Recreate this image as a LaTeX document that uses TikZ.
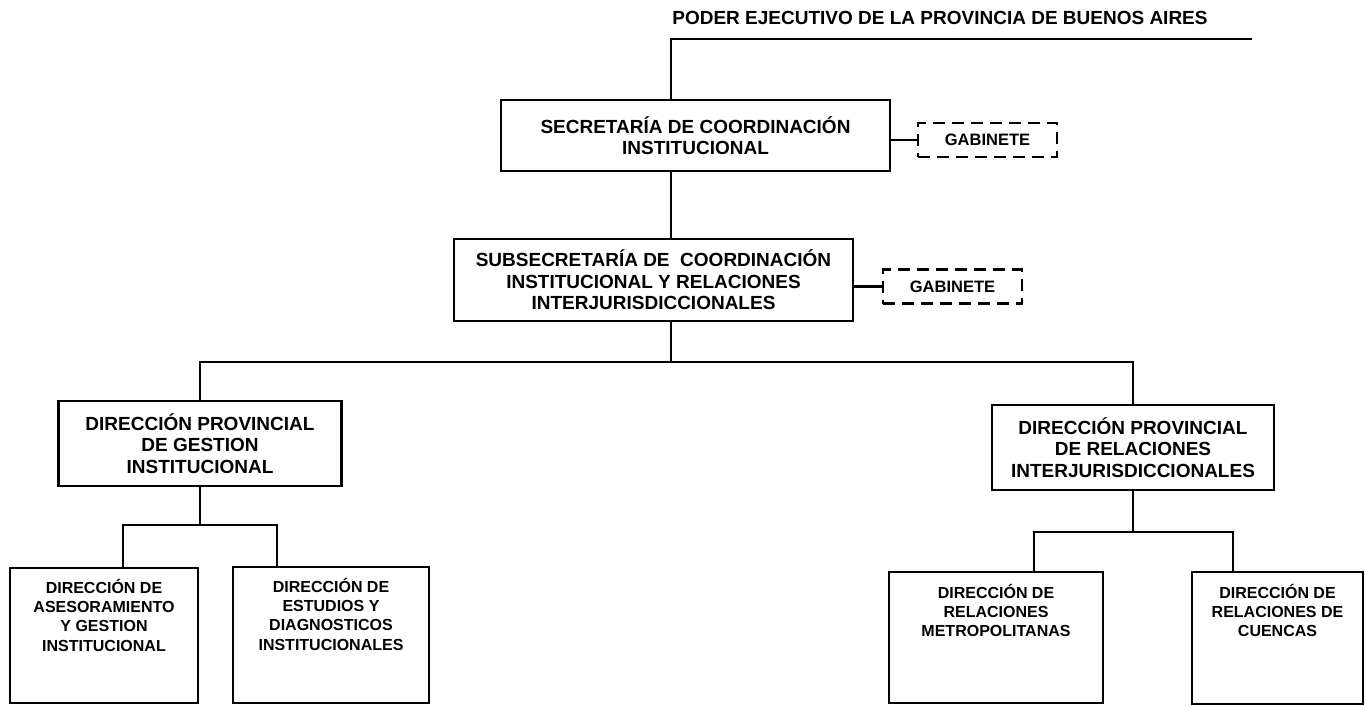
\documentclass[tikz,border=0pt]{standalone}
\usepackage{fontspec}
\setmainfont{Liberation Sans}
\usetikzlibrary{positioning}

\begin{document}
\begin{tikzpicture}[x=1pt,y=-1pt,line width=2.3pt,
  box/.style={draw,inner sep=0pt,align=center,font=\fontsize{19}{21.5}\selectfont\bfseries},
  gab/.style={draw,dash pattern=on 12pt off 7pt,inner sep=0pt,minimum width=139pt,minimum height=34pt,font=\fontsize{16.5}{18}\selectfont\bfseries},
  leaf/.style={draw,inner sep=0pt},
  leaftext/.style={inner sep=0pt,align=center,font=\fontsize{16}{19.3}\selectfont\bfseries}]
\useasboundingbox (0,0) rectangle (1365,705);

\node[font=\fontsize{19}{22}\selectfont\bfseries] (poder) at (940,18) {PODER EJECUTIVO DE LA PROVINCIA DE BUENOS AIRES};
\coordinate (exec) at (671,39);
\coordinate (execend) at (1252,39);

\node[box,minimum width=389pt,minimum height=71pt,font=\fontsize{19}{21}\selectfont\bfseries] (sec) at (695.5,135.5) {SECRETARÍA DE COORDINACIÓN\\INSTITUCIONAL};
\node[gab] (gab1) at (987.5,140) {GABINETE};

\node[box,minimum width=399pt,minimum height=82pt] (subsec) at (653.5,280) {SUBSECRETARÍA DE~~COORDINACIÓN\\INSTITUCIONAL Y RELACIONES\\INTERJURISDICCIONALES};
\node[gab] (gab2) at (952.5,286.5) {GABINETE};

\coordinate (hub) at (671,362);
\node[box,minimum width=283pt,minimum height=85pt] (dpg) at (200,443.5) {DIRECCIÓN PROVINCIAL\\DE GESTION\\INSTITUCIONAL};
\node[box,minimum width=282pt,minimum height=85pt] (dpr) at (1133,447.5) {DIRECCIÓN PROVINCIAL\\DE RELACIONES\\INTERJURISDICCIONALES};

\node[leaf,minimum width=188pt,minimum height=135pt] (ases) at (104,635.5) {};
\node[leaf,minimum width=196pt,minimum height=136pt] (estu) at (331,635) {};
\node[leaf,minimum width=214pt,minimum height=131pt] (metro) at (996,637.5) {};
\node[leaf,minimum width=171pt,minimum height=132pt] (cuen) at (1277.5,638) {};

\node[leaftext,below=11pt of ases.north] (asesT) {DIRECCIÓN DE\\ASESORAMIENTO\\Y GESTION\\INSTITUCIONAL};
\node[leaftext,below=11pt of estu.north] (estuT) {DIRECCIÓN DE\\ESTUDIOS Y\\DIAGNOSTICOS\\INSTITUCIONALES};
\node[leaftext,below=12pt of metro.north] (metroT) {DIRECCIÓN DE\\RELACIONES\\METROPOLITANAS};
\node[leaftext,below=12pt of cuen.north] (cuenT) {DIRECCIÓN DE\\RELACIONES DE\\CUENCAS};

\draw (execend) -- (exec) -- (sec.north -| exec);
\draw (sec.south -| exec) -- (subsec.north -| exec);
\draw (sec.east |- gab1.west) -- (gab1.west);
\draw (subsec.east |- gab2.west) -- (gab2.west);
\draw (subsec.south -| hub) -- (hub);
\draw (dpg.north) |- (hub) -| (dpr.north);

\coordinate (fork1) at (200,525);
\coordinate (fork2) at (1133,532);
\draw (dpg.south) -- (fork1);
\draw ([xshift=19pt]ases.north) |- (fork1) -| ([xshift=-54pt]estu.north);
\draw (dpr.south) -- (fork2);
\draw ([xshift=38pt]metro.north) |- (fork2) -| ([xshift=-44.5pt]cuen.north);
\end{tikzpicture}
\end{document}
